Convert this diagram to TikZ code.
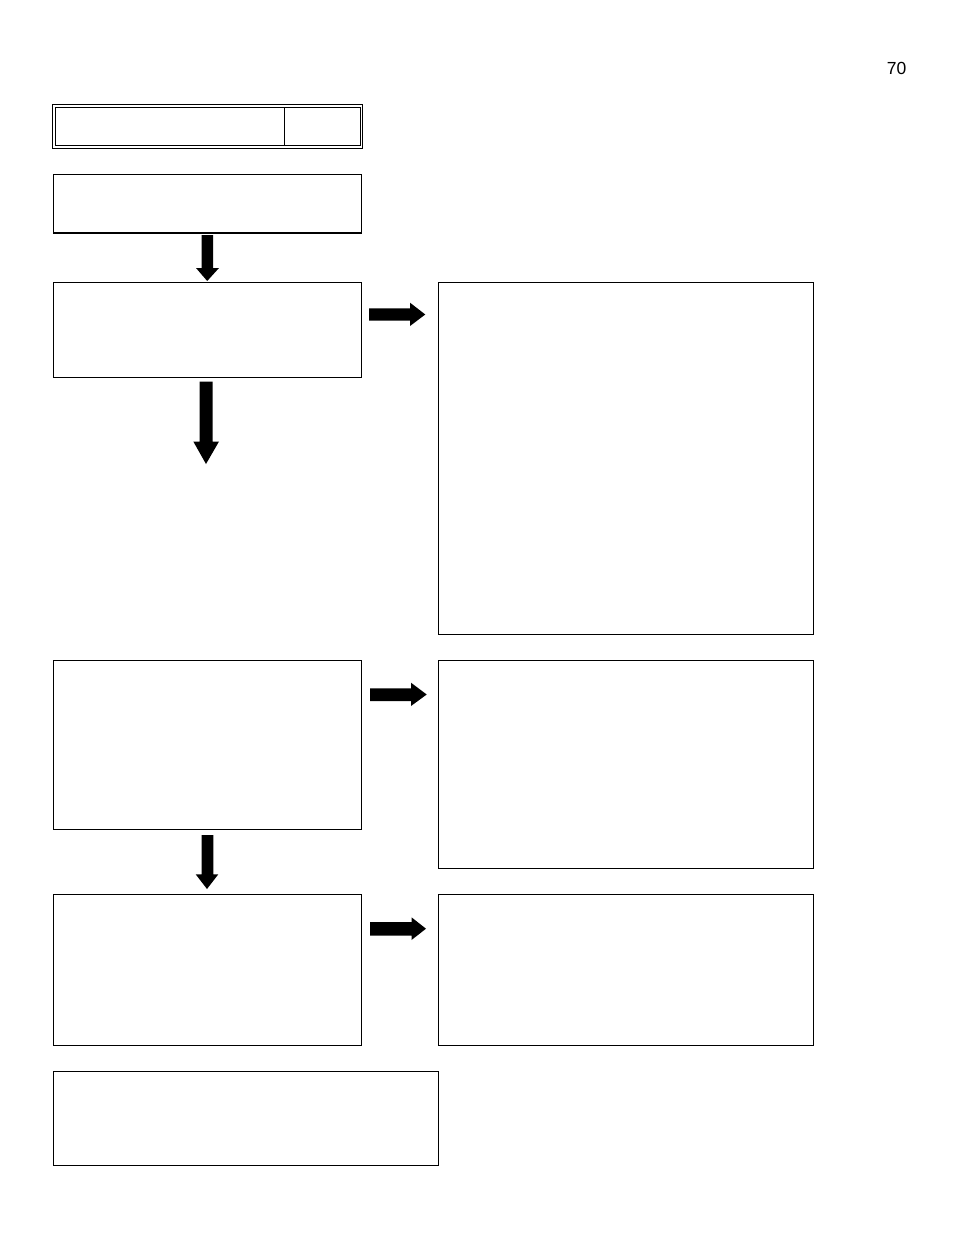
\documentclass[tikz,border=0pt]{standalone}
\usepackage{fontspec}
\setmainfont{Liberation Sans}
\begin{document}
\begin{tikzpicture}[x=1pt,y=-1pt,
  box/.style={draw=black,line width=1.1pt,fill=none,inner sep=0pt,anchor=north west,rectangle},
  blockarrow/.style={fill=black,draw=none}]
\useasboundingbox (0,0) rectangle (954,1235);
\fill[white] (0,0) rectangle (954,1235);
% page number
\node[font=\fontsize{17.5}{19}\selectfont,inner sep=0pt] (pg) at (896.5,68) {70};
% title box with double border
\node[box,minimum width=310pt,minimum height=44pt] (tout) at (52,104) {};
\node[box,minimum width=305pt,minimum height=38pt] (tin) at (54.5,107) {};
\coordinate (dtop) at (284.5,107);
\coordinate (dbot) at (284.5,145);
\draw[line width=1.1pt] (dtop) -- (dbot);
% second box (thicker bottom line)
\node[box,minimum width=308pt,minimum height=58pt] (b2) at (53,174) {};
\draw[line width=2pt] (b2.south west) -- (b2.south east);
% left column
\node[box,minimum width=308pt,minimum height=95pt] (b3) at (53,282) {};
\node[box,minimum width=308pt,minimum height=169pt] (b4) at (53,660) {};
\node[box,minimum width=308pt,minimum height=151pt] (b5) at (53,894) {};
\node[box,minimum width=385pt,minimum height=94pt] (b6) at (53,1071) {};
% right column
\node[box,minimum width=375pt,minimum height=352pt] (r1) at (438,282) {};
\node[box,minimum width=375pt,minimum height=208pt] (r2) at (438,660) {};
\node[box,minimum width=375pt,minimum height=151pt] (r3) at (438,894) {};
% down arrows
\fill[blockarrow] (201.5,235) -- (213,235) -- (213,268) -- (219,268) -- (207.2,281) -- (196,268) -- (201.5,268) -- cycle;
\fill[blockarrow] (199.5,381.5) -- (212.5,381.5) -- (212.5,441.5) -- (219,441.5) -- (206,464) -- (193.3,441.5) -- (199.5,441.5) -- cycle;
\fill[blockarrow] (201.7,835) -- (213.3,835) -- (213.3,874.3) -- (218.3,874.3) -- (207,889) -- (195.7,874.3) -- (201.7,874.3) -- cycle;
% right arrows
\fill[blockarrow] (369,308.3) -- (410,308.3) -- (410,302.7) -- (425.3,314.5) -- (410,326) -- (410,320.7) -- (369,320.7) -- cycle;
\fill[blockarrow] (370,688.3) -- (411,688.3) -- (411,682.7) -- (426.7,694.5) -- (411,706) -- (411,701) -- (370,701) -- cycle;
\fill[blockarrow] (370,922) -- (411.5,922) -- (411.5,917.3) -- (426,928.7) -- (411.5,940) -- (411.5,935.5) -- (370,935.5) -- cycle;
\end{tikzpicture}
\end{document}
